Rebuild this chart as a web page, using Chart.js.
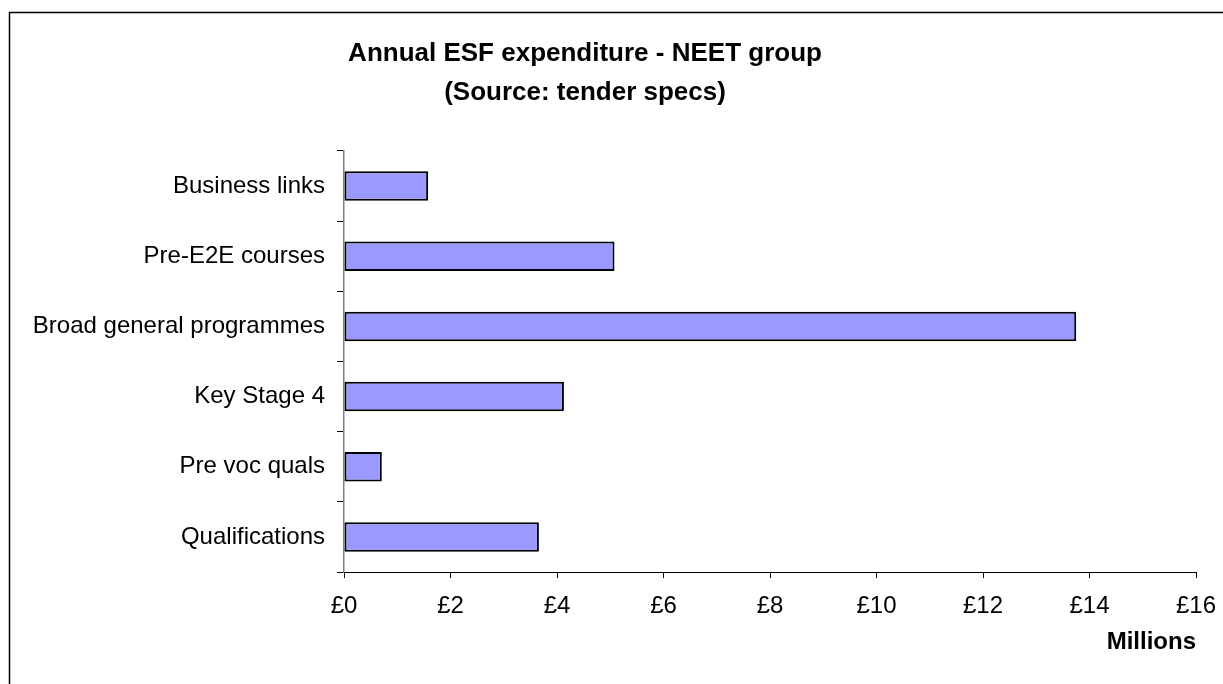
<!DOCTYPE html>
<html>
<head>
<meta charset="utf-8">
<script src="https://cdn.jsdelivr.net/npm/chart.js@4"></script>
<style>
  html, body { margin: 0; padding: 0; background: #fff; }
  #wrap { width: 1223px; height: 684px; position: relative; }
</style>
</head>
<body>
<div id="wrap"><canvas id="myChart" width="1223" height="684"></canvas></div>
<script>
let labels = ['Business links', 'Pre-E2E courses', 'Broad general programmes', 'Key Stage 4', 'Pre voc quals', 'Qualifications'];
let spend = [1.58, 5.08, 13.75, 4.13, 0.71, 3.66];
let titleLines = ['Annual ESF expenditure - NEET group', '(Source: tender specs)'];

let fontFam = '"Liberation Sans", Arial, sans-serif';

// frame round the whole chart and the two-line title
let decor = {
	id: 'decor',
	beforeDraw: (chart) => {
		let c = chart.ctx;
		c.save();
		c.fillStyle = '#fff';
		c.fillRect(0, 0, chart.width, chart.height);
		c.strokeStyle = '#000';
		c.lineWidth = 1.5;
		c.strokeRect(9.5, 12.5, chart.width + 20, chart.height + 20);
		c.restore();
	},
	afterDraw: (chart) => {
		let c = chart.ctx;
		c.save();
		c.fillStyle = '#000';
		c.font = 'bold 26px ' + fontFam;
		c.textAlign = 'center';
		c.textBaseline = 'middle';
		c.fillText(titleLines[0], 585, 54);
		c.fillText(titleLines[1], 585, 93);
		c.restore();
	}
};

let ctx = document.getElementById('myChart').getContext('2d');
let myChart = new Chart(ctx, {
	type: 'bar',
	data: {
		labels: labels,
		datasets: [{
			data: spend,
			backgroundColor: '#9999FF',
			borderColor: '#000',
			borderWidth: 2,
			borderSkipped: false,
			categoryPercentage: 1,
			barPercentage: 0.42
		}]
	},
	plugins: [decor],
	options: {
		indexAxis: 'y',
		responsive: false,
		animation: false,
		layout: {
			padding: { top: 151, right: 0, left: 0, bottom: 0 }
		},
		plugins: {
			legend: { display: false },
			tooltip: { enabled: false },
			title: { display: false }
		},
		scales: {
			x: {
				min: 0,
				max: 16,
				ticks: {
					stepSize: 2,
					color: '#000',
					padding: 14,
					maxRotation: 0,
					font: { family: fontFam, size: 24 },
					callback: (v) => '£' + v
				},
				grid: {
					drawOnChartArea: false,
					tickLength: 6,
					color: '#000'
				},
				border: { color: '#000', width: 1 },
				title: {
					display: true,
					text: 'Millions',
					align: 'end',
					color: '#000',
					padding: { top: 0, bottom: 27 },
					font: { family: fontFam, size: 24, weight: 'bold' }
				},
				afterFit: (scale) => {
					scale.height = 684 - 572;
					scale.paddingRight = 27;
				}
			},
			y: {
				ticks: {
					color: '#000',
					padding: 12,
					font: { family: fontFam, size: 24 }
				},
				grid: {
					drawOnChartArea: false,
					tickLength: 7,
					color: '#000',
					offset: true
				},
				border: { color: '#808080', width: 1.5 },
				afterFit: (scale) => { scale.width = 344; }
			}
		}
	}
});
</script>
</body>
</html>
